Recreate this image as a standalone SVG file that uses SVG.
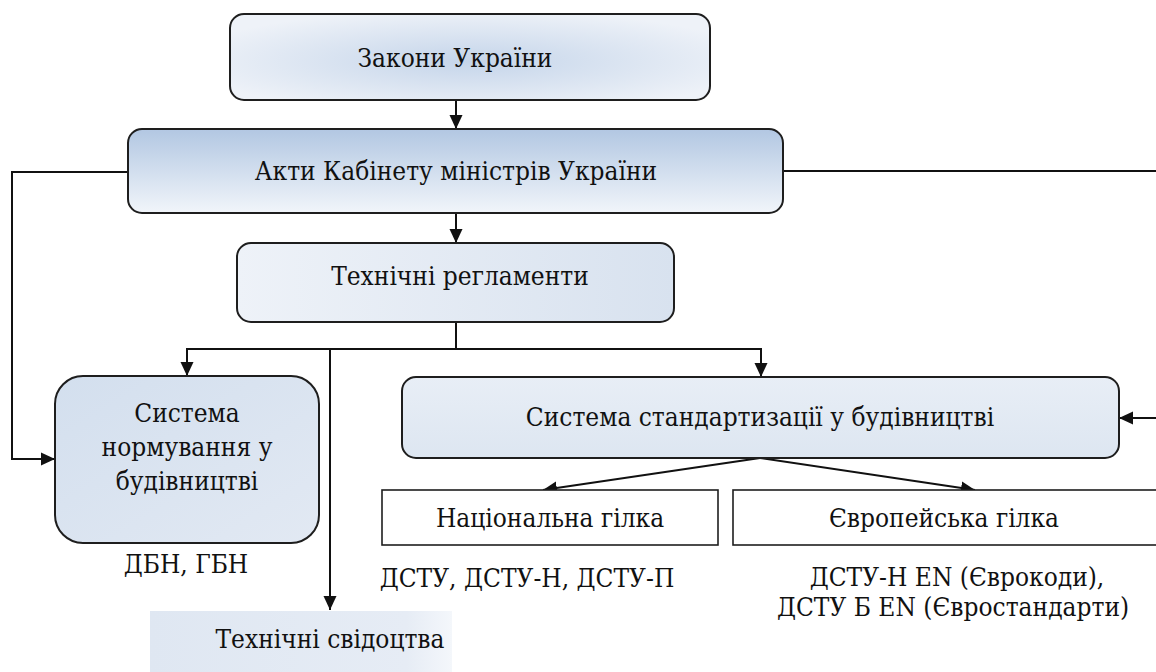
<svg xmlns="http://www.w3.org/2000/svg" width="1156" height="672" viewBox="0 0 1156 672" font-family="DejaVu Serif, serif">
<style>
.box{stroke:#1e1e1e;stroke-width:2}
.plain{fill:#fff;stroke:#1e1e1e;stroke-width:1.6}
text{font-family:'DejaVu Serif Condensed','DejaVu Serif',serif;font-stretch:condensed;font-size:26px;fill:#111;text-anchor:middle}
.c{fill:none;stroke:#111;stroke-width:2}
</style>
<defs>
<marker id="ah" markerUnits="userSpaceOnUse" markerWidth="14" markerHeight="14" viewBox="0 0 14 14" refX="14" refY="7" orient="auto">
<path d="M0,0.5 L14,7 L0,13.5 z" fill="#111"/>
</marker>
<radialGradient id="gZak" cx="0.5" cy="0.55" r="0.6">
<stop offset="0" stop-color="#c5d5ea"/>
<stop offset="1" stop-color="#eef2f8"/>
</radialGradient>
<linearGradient id="gAkt" x1="0" y1="0" x2="0" y2="1">
<stop offset="0" stop-color="#b2c7e2"/>
<stop offset="1" stop-color="#f1f5fa"/>
</linearGradient>
<linearGradient id="gReg" x1="0" y1="0" x2="1" y2="0">
<stop offset="0" stop-color="#eef2f8"/>
<stop offset="1" stop-color="#d8e2ef"/>
</linearGradient>
<linearGradient id="gNorm" x1="0" y1="0" x2="1" y2="1">
<stop offset="0" stop-color="#d3dfee"/>
<stop offset="1" stop-color="#e2e9f3"/>
</linearGradient>
<linearGradient id="gStd" x1="0" y1="0" x2="0" y2="1">
<stop offset="0" stop-color="#e8eef6"/>
<stop offset="1" stop-color="#dde6f1"/>
</linearGradient>
<linearGradient id="gSvid" x1="0" y1="0" x2="1" y2="0">
<stop offset="0" stop-color="#dfe7f2"/>
<stop offset="0.85" stop-color="#e6ecf5"/>
<stop offset="1" stop-color="#f4f7fb"/>
</linearGradient>
</defs>

<g id="connectors">
<path class="c" d="M456,100 V129" marker-end="url(#ah)"/>
<path class="c" d="M456,213 V243" marker-end="url(#ah)"/>
<path class="c" d="M128,172 H12 V459 H55" marker-end="url(#ah)"/>
<path class="c" d="M783,171 H1160"/>
<path class="c" d="M1160,418 H1119" marker-end="url(#ah)"/>
<path class="c" d="M456,322 V349"/>
<path class="c" d="M456,349 H187 V376" marker-end="url(#ah)"/>
<path class="c" d="M456,349 H761 V377" marker-end="url(#ah)"/>
<path class="c" d="M330,349 V610" marker-end="url(#ah)"/>
<path class="c" d="M760,458 L543,490" marker-end="url(#ah)"/>
<path class="c" d="M760,458 L975,490" marker-end="url(#ah)"/>
</g>

<g id="zakony">
<rect class="box" x="230" y="14" width="480" height="86" rx="14" fill="url(#gZak)"/>
<text x="455" y="67">Закони України</text>
</g>

<g id="akty">
<rect class="box" x="128" y="129" width="655" height="84" rx="14" fill="url(#gAkt)"/>
<text x="456" y="180">Акти Кабінету міністрів України</text>
</g>

<g id="reglamenty">
<rect class="box" x="237" y="243" width="437" height="79" rx="14" fill="url(#gReg)"/>
<text x="460" y="285">Технічні регламенти</text>
</g>

<g id="normuvannia">
<rect class="box" x="55" y="376" width="264" height="167" rx="28" fill="url(#gNorm)"/>
<text x="187" y="422">Система</text>
<text x="187" y="456">нормування у</text>
<text x="187" y="490">будівництві</text>
</g>

<g id="dbn">
<text x="186" y="573">ДБН, ГБН</text>
</g>

<g id="standartyzatsia">
<rect class="box" x="402" y="377" width="717" height="81" rx="14" fill="url(#gStd)"/>
<text x="760" y="426">Система стандартизації у будівництві</text>
</g>

<g id="natsionalna">
<rect class="plain" x="382" y="490" width="336" height="55"/>
<text x="550" y="527">Національна гілка</text>
</g>

<g id="yevropeiska">
<rect class="plain" x="733" y="490" width="430" height="55"/>
<text x="944" y="527">Європейська гілка</text>
</g>

<g id="dstu-nat">
<text x="527" y="587">ДСТУ, ДСТУ-Н, ДСТУ-П</text>
</g>

<g id="dstu-eu">
<text x="957" y="586">ДСТУ-Н EN (Єврокоди),</text>
<text x="953" y="616">ДСТУ Б EN (Євростандарти)</text>
</g>

<g id="svidotstva">
<rect x="150" y="611" width="302" height="70" fill="url(#gSvid)"/>
<text x="330" y="648">Технічні свідоцтва</text>
</g>
</svg>
